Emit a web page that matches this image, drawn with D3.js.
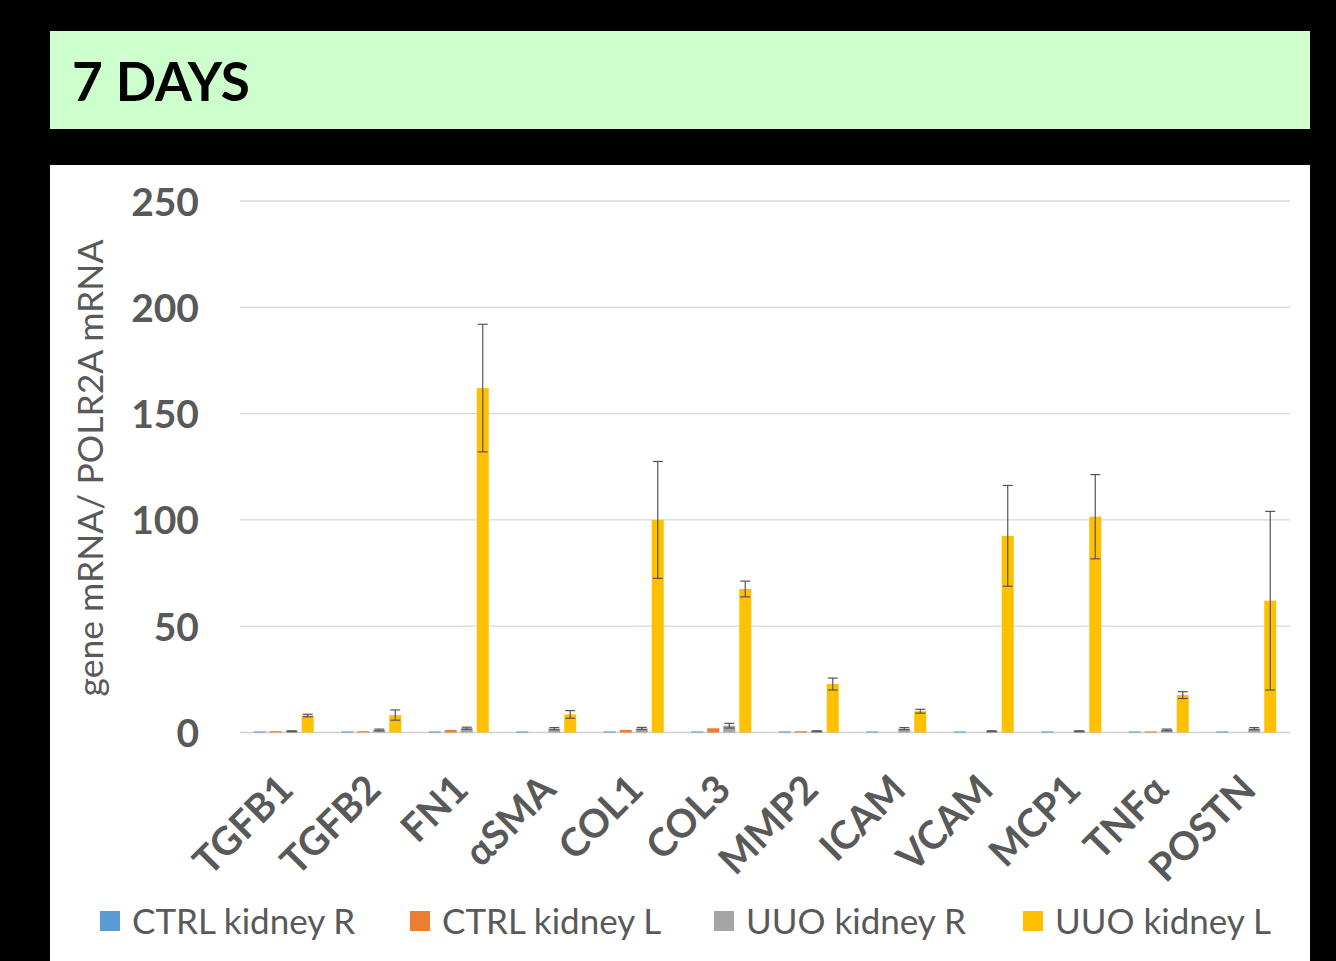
<!DOCTYPE html>
<html>
<head>
<meta charset="utf-8">
<script src="https://cdn.jsdelivr.net/npm/d3@7"></script>
<style>
  html, body { margin: 0; padding: 0; background: #000; }
  svg { display: block; }
</style>
</head>
<body>
<svg id="chart" width="1336" height="961"></svg>
<script>
const categories = ["TGFB1","TGFB2","FN1","αSMA","COL1","COL3","MMP2","ICAM","VCAM","MCP1","TNFα","POSTN"];
const seriesNames = ["CTRL kidney R","CTRL kidney L","UUO kidney R","UUO kidney L"];
const seriesColors = ["#5B9BD5","#ED7D31","#A5A5A5","#FFC000"];
const ctrlR = [0.5,0.5,0.5,0.5,0.5,0.5,0.5,0.5,0.5,0.5,0.5,0.5];
const ctrlL = [0.6,0.6,1.2,0,1.2,2.0,0.6,0,0,0,0.5,0];
const uuoR  = [0.6,1.2,2.0,1.8,1.9,3.2,0.6,1.8,0.6,0.6,1.2,1.8];
const uuoL  = [8.0,8.2,162,8.5,100,67.5,22.8,10,92.5,101.5,17.6,62];
const uuoRErr = [0.2,0.4,0.5,0.5,0.5,1.1,0.2,0.5,0.2,0.2,0.4,0.5];
const uuoLErr = [0.6,2.4,30,1.8,27.5,3.7,2.8,0.9,23.7,19.8,1.6,42];
const yTicks = [0,50,100,150,200,250];
const title = "7 DAYS";
const yTitle = "gene mRNA/ POLR2A mRNA";

const seriesVals = [ctrlR, ctrlL, uuoR, uuoL];
const seriesErr = [null, null, uuoRErr, uuoLErr];

const svg = d3.select("#chart");
const FONT = "Lato, 'Open Sans', sans-serif";
const TXT = "#595959";

function fitWidth(sel, target) {
  const fs = +sel.attr("font-size");
  const w = sel.node().getComputedTextLength();
  sel.attr("font-size", fs * target / w);
}

// header
svg.append("rect").attr("x",50).attr("y",31).attr("width",1260).attr("height",98).attr("fill","#CCFFCC");
const tt = svg.append("text").attr("x",72).attr("y",101).attr("font-family",FONT).attr("font-weight",700)
  .attr("font-size",58).attr("fill","#000").text(title);
fitWidth(tt, 178);

// panel
svg.append("rect").attr("x",50).attr("y",165).attr("width",1260).attr("height",800).attr("fill","#fff");

const x0 = d3.scaleBand().domain(categories).range([240,1290]).paddingInner(0.2686).paddingOuter(0.1343);
const x1 = d3.scaleBand().domain(d3.range(4)).range([0, x0.bandwidth()]).paddingInner(0.25).paddingOuter(0.125);
const y = d3.scaleLinear().domain([0,250]).range([732.5,201]);

// gridlines
svg.append("g").selectAll("line").data(yTicks).join("line")
  .attr("x1",240).attr("x2",1290).attr("y1",d=>y(d)).attr("y2",d=>y(d))
  .attr("stroke",d=>d===0?"#D0D0D0":"#D9D9D9").attr("stroke-width",1.3);

// y axis labels
const yAxis = d3.axisLeft(y).tickValues(yTicks).tickSize(0).tickPadding(0);
const yg = svg.append("g").attr("transform","translate(199,0)").call(yAxis);
yg.select(".domain").remove();
yg.selectAll("text").attr("font-family",FONT).attr("font-weight",700).attr("font-size",39).attr("fill",TXT).attr("dy","0.36em");

// y title
const yt = svg.append("text").attr("transform","translate(103,468) rotate(-90)").attr("text-anchor","middle")
  .attr("font-family",FONT).attr("font-size",30).attr("fill",TXT).text(yTitle);
fitWidth(yt, 457);

// bars
const groups = svg.append("g").selectAll("g").data(categories).join("g")
  .attr("transform",d=>`translate(${x0(d)},0)`);
groups.each(function(cat, ci){
  const g = d3.select(this);
  seriesVals.forEach((vals, si) => {
    const v = vals[ci];
    if (v > 0) {
      g.append("rect").attr("x",x1(si)).attr("width",x1.bandwidth())
        .attr("y",y(v)).attr("height",y(0)-y(v)).attr("fill",seriesColors[si]);
    }
    const errs = seriesErr[si];
    if (errs && v > 0) {
      const cx = x1(si) + x1.bandwidth()/2;
      const e = errs[ci];
      const eg = g.append("g").attr("stroke","#555").attr("stroke-width",1.2);
      eg.append("line").attr("x1",cx).attr("x2",cx).attr("y1",y(v+e)).attr("y2",y(Math.max(0,v-e)));
      eg.append("line").attr("x1",cx-5).attr("x2",cx+5).attr("y1",y(v+e)).attr("y2",y(v+e));
      eg.append("line").attr("x1",cx-5).attr("x2",cx+5).attr("y1",y(Math.max(0,v-e))).attr("y2",y(Math.max(0,v-e)));
    }
  });
});

// category labels
svg.append("g").selectAll("text").data(categories).join("text")
  .attr("transform",d=>`translate(${x0(d)+x0.bandwidth()/2+2},${782}) rotate(-45)`)
  .attr("text-anchor","end").attr("font-family",FONT).attr("font-weight",700).attr("font-size",39)
  .attr("fill",TXT).attr("dy","0.35em").text(d=>d);

// legend
const legX = [100,410,714,1023];
const leg = svg.append("g").selectAll("g").data(seriesNames).join("g")
  .attr("transform",(d,i)=>`translate(${legX[i]},0)`);
leg.append("rect").attr("x",0).attr("y",911).attr("width",20).attr("height",20).attr("fill",(d,i)=>seriesColors[i]);
leg.append("text").attr("x",32).attr("y",921).attr("dy","0.36em").attr("font-family",FONT).attr("font-size",35)
  .attr("fill",TXT).text(d=>d);
</script>
</body>
</html>
